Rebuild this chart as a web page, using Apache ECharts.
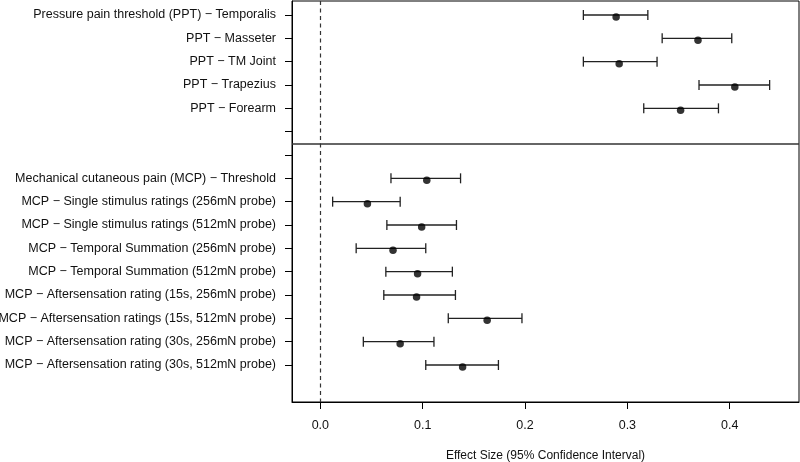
<!DOCTYPE html>
<html>
<head>
<meta charset="utf-8">
<script src="https://cdn.jsdelivr.net/npm/echarts@6/dist/echarts.min.js"></script>
<style>html,body{margin:0;padding:0;background:#fff}#c{width:800px;height:462px}</style>
</head>
<body>
<div id="c"></div>
<script>
const categories = [
  "Pressure pain threshold (PPT) \u2212 Temporalis",
  "PPT \u2212 Masseter",
  "PPT \u2212 TM Joint",
  "PPT \u2212 Trapezius",
  "PPT \u2212 Forearm",
  "",
  "",
  "Mechanical cutaneous pain (MCP) \u2212 Threshold",
  "MCP \u2212 Single stimulus ratings (256mN probe)",
  "MCP \u2212 Single stimulus ratings (512mN probe)",
  "MCP \u2212 Temporal Summation (256mN probe)",
  "MCP \u2212 Temporal Summation (512mN probe)",
  "MCP \u2212 Aftersensation rating (15s, 256mN probe)",
  "MCP \u2212 Aftersensation ratings (15s, 512mN probe)",
  "MCP \u2212 Aftersensation rating (30s, 256mN probe)",
  "MCP \u2212 Aftersensation rating (30s, 512mN probe)"
];
const estimate = [0.289, 0.369, 0.292, 0.405, 0.352, null, null, 0.104, 0.046, 0.099, 0.071, 0.095, 0.094, 0.163, 0.078, 0.139];
const lower    = [0.257, 0.334, 0.257, 0.370, 0.316, null, null, 0.069, 0.012, 0.065, 0.035, 0.064, 0.062, 0.125, 0.042, 0.103];
const upper    = [0.320, 0.402, 0.329, 0.439, 0.389, null, null, 0.137, 0.078, 0.133, 0.103, 0.129, 0.132, 0.197, 0.111, 0.174];
const xTicks = [0.0, 0.1, 0.2, 0.3, 0.4];
const xTickLabels = ["0.0", "0.1", "0.2", "0.3", "0.4"];
const groupSeparator = 5.5;
const xLabel = "Effect Size (95% Confidence Interval)";

const rowIdx = categories.map((_, i) => i);
const barData = [], ptData = [];
rowIdx.forEach(i => {
  if (estimate[i] != null) {
    barData.push([lower[i], upper[i], i]);
    ptData.push([estimate[i], i]);
  }
});

const chart = echarts.init(document.getElementById('c'), null, {renderer: 'canvas'});
const FONT = 'Liberation Sans, Arial, sans-serif';
chart.setOption({
  animation: false,
  backgroundColor: '#fff',
  grid: {left: 292, right: 1, top: 1, bottom: 60, containLabel: false, outerBoundsMode: 'none',
         show: true, borderColor: '#000', borderWidth: 1, backgroundColor: 'transparent'},
  xAxis: {
    type: 'value', min: -0.0277, max: 0.4677,
    name: xLabel, nameLocation: 'middle', nameGap: 48,
    nameTextStyle: {fontFamily: FONT, fontSize: 12, color: '#111'},
    axisLine: {show: true, onZero: false, lineStyle: {color: '#000', width: 1}},
    axisTick: {show: true, length: 7, customValues: xTicks, lineStyle: {color: '#000'}},
    axisLabel: {customValues: xTicks, formatter: v => xTickLabels[xTicks.indexOf(Math.round(v*10)/10)] ?? '', fontFamily: FONT, fontSize: 12.5, color: '#111', margin: 17},
    splitLine: {show: false}
  },
  yAxis: {
    type: 'value', inverse: true, min: -0.6, max: 16.586,
    axisLine: {show: true, onZero: false, lineStyle: {color: '#000', width: 1}},
    axisTick: {show: true, length: 7, customValues: rowIdx, lineStyle: {color: '#000'}},
    axisLabel: {customValues: rowIdx, formatter: v => categories[Math.round(v)] || '', fontFamily: FONT, fontSize: 12.5, color: '#111', margin: 16},
    splitLine: {show: false}
  },
  series: [
    {
      type: 'custom',
      data: barData,
      encode: {x: [0, 1], y: 2},
      renderItem: function (params, api) {
        const a = api.coord([api.value(0), api.value(2)]);
        const b = api.coord([api.value(1), api.value(2)]);
        const h = 5;
        const st = {stroke: '#222', lineWidth: 1.3};
        return {type: 'group', children: [
          {type: 'line', shape: {x1: a[0], y1: a[1], x2: b[0], y2: b[1]}, style: st},
          {type: 'line', shape: {x1: a[0], y1: a[1]-h, x2: a[0], y2: a[1]+h}, style: st},
          {type: 'line', shape: {x1: b[0], y1: b[1]-h, x2: b[0], y2: b[1]+h}, style: st}
        ]};
      },
      markLine: {
        silent: true, symbol: 'none', label: {show: false},
        data: [
          {xAxis: 0, lineStyle: {type: [4, 3.5], color: '#333', width: 1.2}},
          {yAxis: groupSeparator, lineStyle: {type: 'solid', color: '#333', width: 1.6}}
        ]
      }
    },
    {
      type: 'scatter',
      data: ptData,
      symbol: 'circle', symbolSize: 7.5, symbolOffset: [0, 2],
      itemStyle: {color: '#000'}
    }
  ]
});
</script>
</body>
</html>
